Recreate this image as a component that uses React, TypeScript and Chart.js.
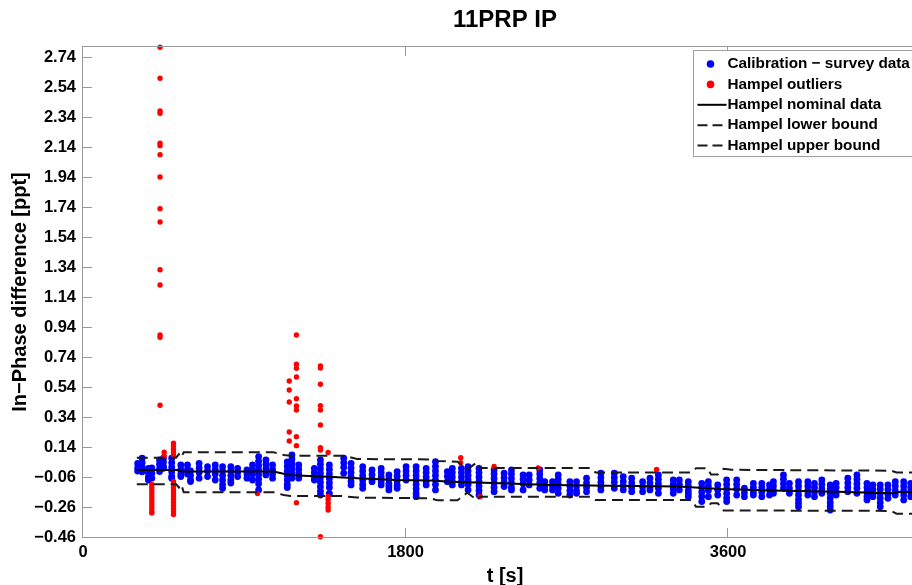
import React, { useEffect, useRef } from 'react';
import { Chart, registerables } from 'chart.js';

Chart.register(...registerables);

const FONT = "'Liberation Sans', Arial, Helvetica, sans-serif";

// Axis ticks / limits
const xTicks = [0, 1800, 3600];
const yTicks = [-0.46, -0.26, -0.06, 0.14, 0.34, 0.54, 0.74, 0.94, 1.14, 1.34, 1.54, 1.74, 1.94, 2.14, 2.34, 2.54, 2.74];
const xMin = 0;
const xMax = 4710;
const yMin = -0.46;
const yMax = 2.8067;

// Calibration - survey data: time of each burst and the values read in it
const surveyT = [305, 330, 365, 384, 427, 449, 495, 546, 583, 600, 648, 695, 738, 779, 825, 863, 915, 946, 980, 1021,
  1058, 1140, 1166, 1204, 1291, 1325, 1375, 1455, 1496, 1561, 1613, 1664, 1707, 1753, 1803, 1859, 1915, 1967, 2033, 2061,
  2112, 2149, 2210, 2294, 2350, 2391, 2456, 2490, 2549, 2577, 2620, 2652, 2717, 2754, 2810, 2890, 2965, 3015, 3062, 3123,
  3164, 3211, 3294, 3328, 3378, 3453, 3490, 3542, 3592, 3648, 3691, 3741, 3788, 3831, 3853, 3909, 3942, 3993, 4045, 4082,
  4123, 4170, 4203, 4268, 4319, 4375, 4408, 4449, 4492, 4533, 4580, 4619];
const surveyV = [
  [0.03, 0.0, -0.02],
  [0.065, 0.035, 0.005, -0.025],
  [-0.002, -0.03, -0.06, -0.08],
  [0.0, -0.035, -0.068],
  [0.054, 0.025, -0.005, -0.024],
  [0.065, 0.04, 0.01, -0.002],
  [0.065, 0.035, 0.005, -0.025, -0.055, -0.068],
  [0.02, -0.01, -0.04, -0.057],
  [0.02, -0.01, -0.04],
  [-0.02, -0.05, -0.08, -0.09],
  [0.031, 0.0, -0.03, -0.068],
  [0.009, -0.02, -0.057],
  [0.02, -0.01, -0.04, -0.08],
  [0.009, -0.02, -0.05, -0.08, -0.11, -0.135],
  [0.009, -0.02, -0.05, -0.08, -0.10],
  [-0.002, -0.03, -0.057],
  [-0.013, -0.04, -0.068],
  [0.02, -0.01, -0.04, -0.08],
  [0.076, 0.045, 0.015, -0.015, -0.045, -0.075, -0.105, -0.146],
  [0.054, 0.025, -0.005, -0.035, -0.046],
  [0.02, -0.01, -0.04, -0.068],
  [0.04, 0.01, -0.02, -0.05, -0.08, -0.11, -0.13],
  [0.087, 0.06, 0.03, 0.0, -0.03, -0.068],
  [0.02, -0.01, -0.04, -0.068],
  [-0.002, -0.03, -0.06, -0.08],
  [0.054, 0.025, -0.005, -0.035, -0.065, -0.095, -0.125, -0.155, -0.18],
  [0.02, -0.01, -0.04, -0.07, -0.10, -0.13, -0.169],
  [0.065, 0.035, 0.005, -0.035],
  [0.031, 0.0, -0.03, -0.06, -0.09, -0.113],
  [0.009, -0.02, -0.05, -0.08, -0.11, -0.135],
  [-0.013, -0.045, -0.075, -0.091],
  [-0.002, -0.03, -0.06, -0.09, -0.113],
  [-0.046, -0.075, -0.105, -0.125, -0.146],
  [-0.024, -0.055, -0.085, -0.115, -0.135],
  [0.009, -0.02, -0.05, -0.08],
  [0.009, -0.02, -0.05, -0.08, -0.11, -0.14, -0.17, -0.191],
  [-0.002, -0.03, -0.06, -0.09, -0.113],
  [0.042, 0.01, -0.02, -0.05, -0.08, -0.11, -0.146],
  [-0.024, -0.055, -0.091],
  [-0.002, -0.03, -0.06, -0.09, -0.113],
  [-0.002, -0.03, -0.06, -0.09, -0.113],
  [0.009, -0.02, -0.05, -0.08, -0.11, -0.146],
  [-0.002, -0.03, -0.06, -0.09, -0.12, -0.15, -0.18],
  [-0.013, -0.04, -0.07, -0.10, -0.13, -0.158],
  [-0.035, -0.065, -0.095, -0.124],
  [-0.013, -0.04, -0.07, -0.10, -0.13, -0.146],
  [-0.046, -0.075, -0.105, -0.146],
  [-0.046, -0.08, -0.113],
  [-0.013, -0.04, -0.07, -0.10, -0.135],
  [-0.091, -0.12, -0.146],
  [-0.091, -0.12, -0.146],
  [-0.046, -0.075, -0.105, -0.135, -0.169],
  [-0.091, -0.12, -0.15, -0.18],
  [-0.091, -0.12, -0.15, -0.169],
  [-0.068, -0.1, -0.13, -0.158],
  [-0.035, -0.065, -0.095, -0.125, -0.146],
  [-0.035, -0.065, -0.095, -0.135],
  [-0.057, -0.09, -0.12, -0.146],
  [-0.068, -0.1, -0.13, -0.158],
  [-0.091, -0.125, -0.158],
  [-0.068, -0.1, -0.13, -0.146],
  [-0.046, -0.075, -0.105, -0.135, -0.169],
  [-0.08, -0.11, -0.14, -0.169],
  [-0.08, -0.11, -0.146],
  [-0.091, -0.12, -0.15, -0.17, -0.191],
  [-0.102, -0.13, -0.16, -0.19, -0.224],
  [-0.091, -0.12, -0.15, -0.191],
  [-0.113, -0.145, -0.18],
  [-0.08, -0.11, -0.14, -0.17, -0.2, -0.224],
  [-0.08, -0.11, -0.14, -0.18],
  [-0.135, -0.165, -0.191],
  [-0.102, -0.13, -0.16, -0.18],
  [-0.102, -0.13, -0.16, -0.191],
  [-0.113, -0.145, -0.18],
  [-0.091, -0.12, -0.15, -0.169],
  [-0.046, -0.075, -0.105, -0.135],
  [-0.102, -0.135, -0.169],
  [-0.091, -0.12, -0.15, -0.18, -0.21, -0.235, -0.258],
  [-0.091, -0.12, -0.15, -0.18],
  [-0.102, -0.13, -0.16, -0.191],
  [-0.08, -0.11, -0.14, -0.169],
  [-0.113, -0.14, -0.17, -0.2, -0.23, -0.255, -0.28],
  [-0.102, -0.13, -0.16, -0.18],
  [-0.068, -0.1, -0.13, -0.158],
  [-0.046, -0.075, -0.105, -0.135, -0.169],
  [-0.102, -0.13, -0.16, -0.19, -0.213],
  [-0.113, -0.145, -0.175, -0.191],
  [-0.113, -0.14, -0.17, -0.2, -0.23, -0.258],
  [-0.113, -0.145, -0.175, -0.202],
  [-0.091, -0.12, -0.15, -0.18],
  [-0.091, -0.12, -0.15, -0.18, -0.213],
  [-0.102, -0.13, -0.16, -0.191],
];

// Hampel outliers
const outlierT = [384, 430, 453, 505, 974, 1151, 1191, 1325, 1368, 2108, 2216, 2294, 2540, 3201];
const outlierV = [
  [-0.11, -0.13, -0.15, -0.17, -0.19, -0.21, -0.23, -0.25, -0.27, -0.29, -0.30],
  [2.805, 2.598, 2.380, 2.365, 2.165, 2.149, 2.089, 1.940, 1.729, 1.64, 1.322, 1.220, 0.887, 0.872, 0.418],
  [0.105, 0.08],
  [0.165, 0.145, 0.125, 0.105, 0.085, -0.09, -0.11, -0.13, -0.15, -0.17, -0.19, -0.21, -0.23, -0.25, -0.27, -0.29, -0.31],
  [-0.17],
  [0.58, 0.52, 0.44, 0.24, 0.18],
  [0.887, 0.692, 0.665, 0.607, 0.462, 0.414, 0.387, 0.209, 0.149, -0.231],
  [0.680, 0.667, 0.558, 0.416, 0.387, 0.287, 0.136, 0.120, -0.458],
  [0.103, -0.19, -0.21, -0.235, -0.26, -0.28],
  [0.069, 0.035],
  [-0.191],
  [0.01],
  [0.0],
  [-0.01],
];

// Hampel nominal data / bounds
const nominalT = [300, 520, 560, 1063, 1157, 1340, 1530, 1750, 1940, 2052, 2330, 2610, 2946, 3320, 3560, 3840, 4210, 4510, 4560, 4710];
const nominalV = [-0.013, -0.013, -0.024, -0.024, -0.048, -0.057, -0.068, -0.08, -0.084, -0.091, -0.102, -0.113, -0.118, -0.124, -0.14, -0.15, -0.158, -0.169, -0.16, -0.16];

const lowerT = [300, 520, 535, 548, 562, 1063, 1120, 1157, 1436, 1530, 1940, 1977, 2090, 2145, 2200, 2215, 2830, 2860, 3393, 3421, 3486, 3505, 3542, 3575, 4510, 4540, 4710];
const lowerV = [-0.108, -0.108, -0.13, -0.108, -0.162, -0.162, -0.18, -0.186, -0.186, -0.197, -0.202, -0.215, -0.215, -0.165, -0.215, -0.191, -0.191, -0.213, -0.213, -0.258, -0.258, -0.235, -0.235, -0.283, -0.286, -0.305, -0.305];

const upperT = [300, 520, 535, 548, 562, 1063, 1120, 1157, 1455, 1530, 1940, 1977, 2090, 2145, 2200, 2215, 2830, 2860, 3393, 3421, 3486, 3505, 3542, 3575, 3620, 4510, 4540, 4710];
const upperV = [0.069, 0.069, 0.092, 0.069, 0.105, 0.105, 0.087, 0.082, 0.082, 0.06, 0.057, 0.047, 0.042, -0.01, 0.04, 0.0, 0.0, -0.03, -0.03, -0.002, -0.002, -0.044, -0.044, -0.005, -0.012, -0.018, -0.03, -0.03];

const toPoints = (T: number[], V: number[][]) => T.flatMap((t, i) => V[i].map((v) => ({ x: t, y: v })));
const toLine = (T: number[], V: number[]) => T.map((t, i) => ({ x: t, y: V[i] }));

const AXIS_GRAY = '#9a9a9a';

const framePlugin = {
  id: 'matlabFrame',
  afterDatasetsDraw(chart: any) {
    const { ctx, chartArea: a, scales } = chart;
    const xs = scales.x;
    const ys = scales.y;
    const tl = 9;
    ctx.save();
    ctx.strokeStyle = AXIS_GRAY;
    ctx.lineWidth = 1;
    ctx.strokeRect(Math.round(a.left) - 0.5, Math.round(a.top) - 0.5, Math.round(a.right - a.left) + 1, Math.round(a.bottom - a.top) + 1);
    ctx.beginPath();
    xs.ticks.forEach((t: any) => {
      const px = Math.round(xs.getPixelForValue(t.value)) - 0.5;
      ctx.moveTo(px, a.bottom);
      ctx.lineTo(px, a.bottom - tl);
      ctx.moveTo(px, a.top);
      ctx.lineTo(px, a.top + tl);
    });
    ys.ticks.forEach((t: any) => {
      const py = Math.round(ys.getPixelForValue(t.value)) + 0.5;
      ctx.moveTo(a.left, py);
      ctx.lineTo(a.left + tl, py);
      ctx.moveTo(a.right, py);
      ctx.lineTo(a.right - tl, py);
    });
    ctx.stroke();
    ctx.restore();
  },
};

const legendPlugin = {
  id: 'matlabLegend',
  afterDraw(chart: any) {
    const { ctx, chartArea } = chart;
    const x0 = Math.round(chartArea.right - 234) + 0.5;
    const y0 = Math.round(chartArea.top + 3) + 0.5;
    const w = 226;
    const h = 106;
    const rowH = 20.4;
    ctx.save();
    ctx.fillStyle = '#ffffff';
    ctx.fillRect(x0, y0, w, h);
    ctx.strokeStyle = '#a0a0a0';
    ctx.lineWidth = 1;
    ctx.strokeRect(x0, y0, w, h);
    ctx.font = `bold 15.3px ${FONT}`;
    ctx.textBaseline = 'middle';
    ctx.textAlign = 'left';
    chart.data.datasets.forEach((ds: any, i: number) => {
      const cy = y0 + 13.5 + i * rowH;
      if (ds.showLine) {
        const dashed = ds.borderDash && ds.borderDash.length;
        ctx.strokeStyle = ds.borderColor;
        ctx.lineWidth = 2;
        ctx.setLineDash(dashed ? [10, 5] : []);
        ctx.beginPath();
        ctx.moveTo(x0 + 4, cy);
        ctx.lineTo(x0 + (dashed ? 29 : 33), cy);
        ctx.stroke();
        ctx.setLineDash([]);
      } else {
        ctx.fillStyle = ds.pointBackgroundColor;
        ctx.beginPath();
        ctx.arc(x0 + 17, cy, 3.8, 0, Math.PI * 2);
        ctx.fill();
      }
      ctx.fillStyle = '#000000';
      ctx.fillText(ds.label, x0 + 34, cy);
    });
    ctx.restore();
  },
};

const fmtY = (v: number) => Number(v).toFixed(2).replace('-', '\u2212');

export default function App() {
  const ref = useRef<HTMLCanvasElement | null>(null);

  useEffect(() => {
    if (!ref.current) return;
    const chart = new Chart(ref.current, {
      type: 'scatter',
      data: {
        datasets: [
          {
            label: 'Calibration \u2212 survey data',
            data: toPoints(surveyT, surveyV),
            pointRadius: 3.4,
            pointBackgroundColor: '#0000ff',
            backgroundColor: '#0000ff',
            pointBorderWidth: 0,
            borderWidth: 0,
            order: 3,
            clip: false,
          } as any,
          {
            label: 'Hampel outliers',
            data: toPoints(outlierT, outlierV),
            pointRadius: 2.7,
            pointBackgroundColor: '#ff0000',
            backgroundColor: '#ff0000',
            pointBorderWidth: 0,
            borderWidth: 0,
            order: 2,
            clip: false,
          } as any,
          {
            label: 'Hampel nominal data',
            data: toLine(nominalT, nominalV),
            showLine: true,
            borderColor: '#000000',
            borderWidth: 2,
            pointRadius: 0,
            order: 0,
          } as any,
          {
            label: 'Hampel lower bound',
            data: toLine(lowerT, lowerV),
            showLine: true,
            borderColor: '#1a1a1a',
            borderWidth: 2,
            borderDash: [11, 6],
            pointRadius: 0,
            order: 1,
          } as any,
          {
            label: 'Hampel upper bound',
            data: toLine(upperT, upperV),
            showLine: true,
            borderColor: '#1a1a1a',
            borderWidth: 2,
            borderDash: [11, 6],
            pointRadius: 0,
            order: 1,
          } as any,
        ],
      },
      options: {
        responsive: false,
        animation: false,
        devicePixelRatio: 1,
        events: [],
        layout: { padding: { left: 0, right: 13, top: 0, bottom: 0 } },
        plugins: {
          legend: { display: false },
          tooltip: { enabled: false },
          title: {
            display: true,
            text: '11PRP IP',
            fullSize: false,
            color: '#000000',
            font: { family: FONT, size: 24, weight: 'bold' },
            padding: { top: 6, bottom: 12.2 },
          },
        },
        scales: {
          x: {
            type: 'linear',
            min: xMin,
            max: xMax,
            afterBuildTicks: (s: any) => {
              s.ticks = xTicks.map((v) => ({ value: v }));
            },
            afterFit: (s: any) => {
              s.height = 63;
            },
            grid: { display: false, drawTicks: false },
            border: { display: false },
            ticks: {
              color: '#000000',
              font: { family: FONT, size: 16.5, weight: 'bold' },
              padding: 6,
              maxRotation: 0,
              autoSkip: false,
              callback: (v: any) => String(v),
            },
            title: {
              display: true,
              text: 't [s]',
              color: '#000000',
              font: { family: FONT, size: 20, weight: 'bold' },
              padding: { top: 0, bottom: 12 },
            },
          },
          y: {
            type: 'linear',
            min: yMin,
            max: yMax,
            afterBuildTicks: (s: any) => {
              s.ticks = yTicks.map((v) => ({ value: v }));
            },
            afterFit: (s: any) => {
              s.width = 83;
            },
            grid: { display: false, drawTicks: false },
            border: { display: false },
            ticks: {
              color: '#000000',
              font: { family: FONT, size: 16.5, weight: 'bold' },
              padding: 7,
              autoSkip: false,
              callback: (v: any) => fmtY(v),
            },
            title: {
              display: true,
              text: 'In\u2212Phase difference [ppt]',
              color: '#000000',
              font: { family: FONT, size: 20, weight: 'bold' },
              padding: { top: 8, bottom: 0 },
            },
          },
        },
      } as any,
      plugins: [framePlugin, legendPlugin],
    });
    return () => chart.destroy();
  }, []);

  return (
    <div
      style={{
        position: 'absolute',
        left: 0,
        top: 0,
        width: 912,
        height: 585,
        overflow: 'hidden',
        background: '#ffffff',
      }}
    >
      <canvas ref={ref} width={940} height={600} style={{ display: 'block', width: 940, height: 600 }} />
    </div>
  );
}
